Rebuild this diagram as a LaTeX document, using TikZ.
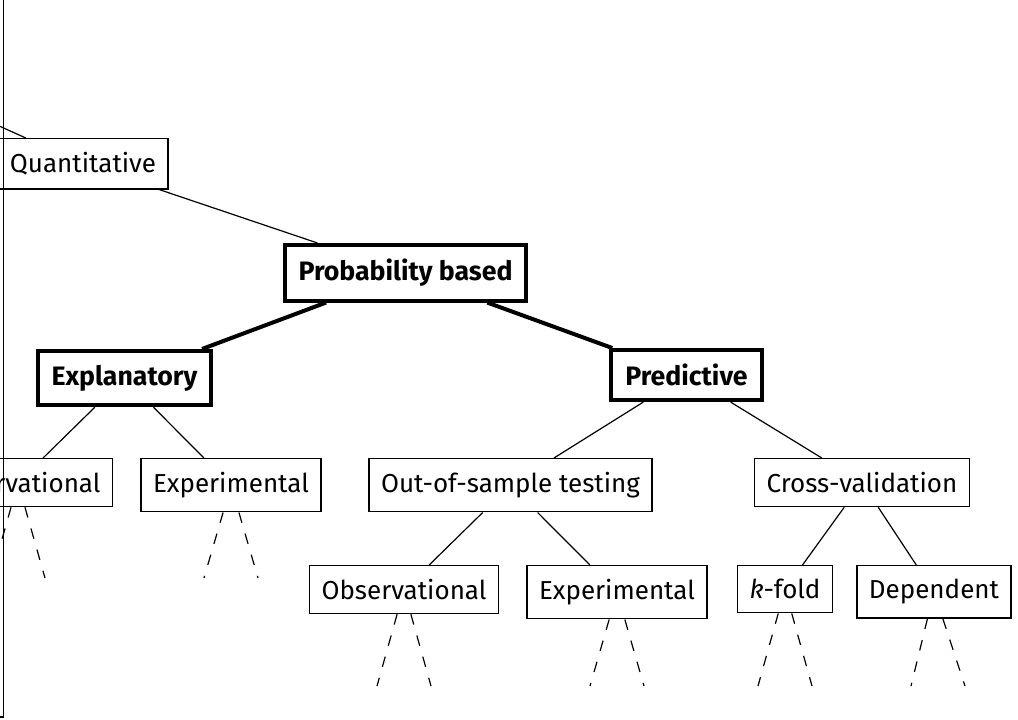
\documentclass[tikz,border=0pt]{standalone}
\usepackage{fontspec}
\setmainfont{Fira Sans}
\begin{document}
\begin{tikzpicture}[x=0.75pt,y=-0.75pt,
  box/.style={draw, line width=1pt, fill=white, anchor=north, inner xsep=9pt, inner ysep=10.25pt,
    font=\fontsize{19.5}{22}\selectfont},
  keybox/.style={box, line width=3pt, inner xsep=10.5pt, inner ysep=10.5pt,
    font=\fontsize{20}{22}\selectfont\bfseries},
  edge/.style={line width=0.9pt},
  keyedge/.style={line width=3pt},
  open/.style={line width=0.9pt, dash pattern=on 8pt off 8.5pt}]
\useasboundingbox (0,0) rectangle (1018,719);
\clip (0,0) rectangle (1018,719);

% tree nodes, placed by their top centres
\node[box]    (quant) at (83,138)    {Quantitative};
\node[keybox] (prob)  at (405.5,243) {Probability based};
\node[keybox] (expl)  at (124.5,349) {Explanatory};
\node[keybox] (pred)  at (686.5,348) {Predictive};
\node[box]    (obsA)  at (18,458)    {Observational};
\node[box]    (expA)  at (231,458)   {Experimental};
\node[box]    (oos)   at (510.5,458) {Out-of-sample testing};
\node[box]    (cv)    at (862,458)   {Cross-validation};
\node[box]    (obsB)  at (404,565)   {Observational};
\node[box]    (expB)  at (617,565)   {Experimental};
\node[box]    (kfold) at (785,565)   {\textit{k}-fold};
\node[box]    (dep)   at (934,565)   {Dependent};

% parent of the quantitative branch lies outside the frame
\coordinate (root) at (-156,56);

% ends of the open branches below the leaves
\coordinate (obsAl) at (-9,578);   \coordinate (obsAr) at (45,578);
\coordinate (expAl) at (204,578);  \coordinate (expAr) at (258,578);
\coordinate (obsBl) at (377,686);  \coordinate (obsBr) at (431,686);
\coordinate (expBl) at (590,686);  \coordinate (expBr) at (644,686);
\coordinate (kfoldl) at (758,686); \coordinate (kfoldr) at (812,686);
\coordinate (depl) at (911,686);   \coordinate (depr) at (965,686);

% connectors
\draw[edge] (root) -- (quant);
\draw[edge] (quant) -- (prob);
\draw[keyedge] (prob) -- (expl);
\draw[keyedge] (prob) -- (pred);
\draw[edge] (expl) -- (obsA);
\draw[edge] (expl) -- (expA);
\draw[edge] (pred) -- (oos);
\draw[edge] (pred) -- (cv);
\draw[edge] (oos) -- (obsB);
\draw[edge] (oos) -- (expB);
\draw[edge] (cv) -- (kfold);
\draw[edge] (cv) -- (dep);

% open branches
\foreach \n in {obsA,expA,obsB,expB,kfold,dep}{
  \draw[open] (\n) -- (\n l);
  \draw[open] (\n) -- (\n r);
}

% frame edge at the left
\draw[line width=1.3pt] (3.5,-5) -- (3.5,717) -- (-5,717);
\end{tikzpicture}
\end{document}
